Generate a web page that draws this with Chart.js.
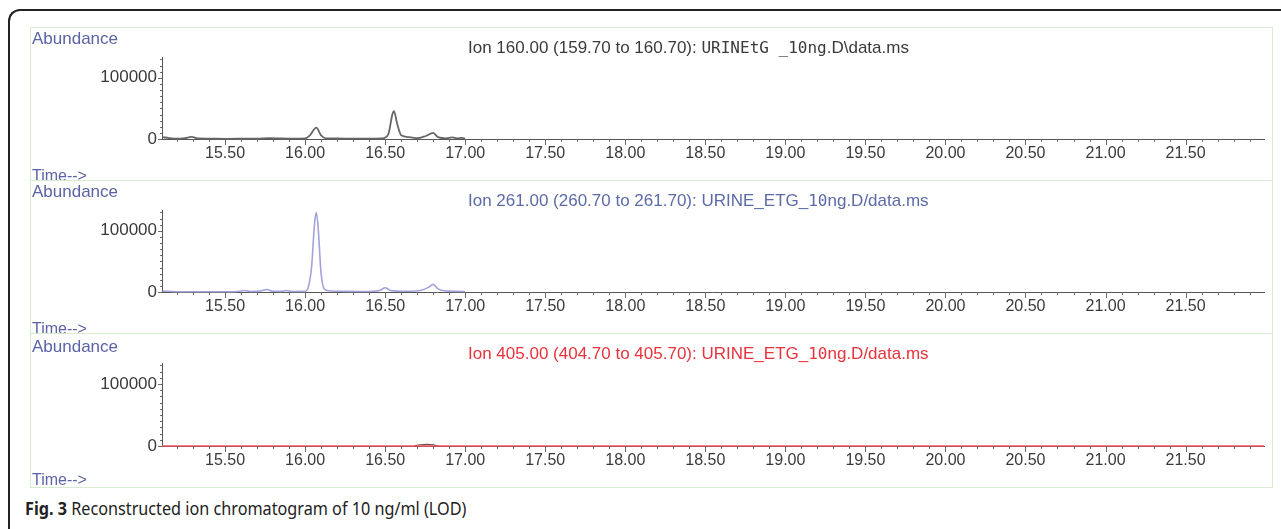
<!DOCTYPE html>
<html>
<head>
<meta charset="utf-8">
<script src="https://cdn.jsdelivr.net/npm/chart.js@4.4.1/dist/chart.umd.min.js"></script>
<style>
  html, body { margin: 0; padding: 0; background: #fff; }
  body { width: 1281px; height: 529px; position: relative; overflow: hidden; font-family: "Liberation Sans", Arial, sans-serif; }
  .frame { position: absolute; left: 8px; top: 9px; width: 1400px; height: 600px; border-top: 2px solid #222; border-left: 2px solid #222; border-top-left-radius: 12px; }
  .panel { position: absolute; left: 30px; width: 1243px; border: 1px solid #d6ebcf; box-sizing: border-box; }
  .panel canvas { position: absolute; left: 0; top: 0; }
  .lbl { position: absolute; white-space: nowrap; line-height: 1; }
  .abund { left: 1px; font-size: 17px; color: #5b63a6; }
  .time { left: 1px; font-size: 16px; color: #5b63a6; }
  .ttl { left: 437px; font-size: 17px; }
  .mono { font-family: "DejaVu Sans Mono", monospace; font-size: 16px; }
  .caption { position: absolute; left: 25px; top: 496px; font-family: "Noto Sans", sans-serif; font-size: 18px; color: #222; white-space: nowrap; transform: scaleX(0.9); transform-origin: 0 0; }
</style>
</head>
<body>
<div class="frame"></div>

<div class="panel" style="top:27px;height:154px;">
  <canvas id="c1" width="1243" height="154"></canvas>
  <div class="lbl abund" style="top:2px;">Abundance</div>
  <div class="lbl ttl" style="top:11px;color:#3a3a3a;">Ion 160.00 (159.70 to 160.70): <span class="mono">URINEtG _10ng</span>.D\data.ms</div>
  <div class="lbl time" style="top:140px;">Time--&gt;</div>
</div>
<div class="panel" style="top:180px;height:154px;">
  <canvas id="c2" width="1243" height="154"></canvas>
  <div class="lbl abund" style="top:2px;">Abundance</div>
  <div class="lbl ttl" style="top:11px;color:#5d6aa8;">Ion 261.00 (260.70 to 261.70): URINE_ETG_<span class="mono">10</span>ng.D/data.ms</div>
  <div class="lbl time" style="top:140px;">Time--&gt;</div>
</div>
<div class="panel" style="top:333px;height:155px;">
  <canvas id="c3" width="1243" height="155"></canvas>
  <div class="lbl abund" style="top:4px;">Abundance</div>
  <div class="lbl ttl" style="top:11px;color:#e8323c;">Ion 405.00 (404.70 to 405.70): URINE_ETG_<span class="mono">10</span>ng.D/data.ms</div>
  <div class="lbl time" style="top:138px;">Time--&gt;</div>
</div>

<div class="caption"><b>Fig. 3</b> Reconstructed ion chromatogram of 10 ng/ml (LOD)</div>

<script>
// Ion 160 trace
const times160 = [15.11, 15.15, 15.20, 15.25, 15.29, 15.33, 15.40, 15.50, 15.60, 15.70, 15.78, 15.85, 15.95, 16.00, 16.03, 16.07, 16.10, 16.13, 16.20, 16.30, 16.40, 16.48, 16.52, 16.545, 16.555, 16.575, 16.60, 16.65, 16.70, 16.75, 16.80, 16.83, 16.88, 16.92, 16.95, 16.98, 17.00];
const abund160 = [3000, 1500, 500, 1500, 3500, 800, 500, 300, 400, 600, 1500, 800, 500, 800, 6000, 18500, 6000, 1000, 800, 600, 500, 800, 8000, 40000, 45500, 25000, 6000, 3000, 1200, 4500, 10000, 3000, 1000, 2500, 1000, 2000, 500];

// Ion 261 trace
const times261 = [15.11, 15.20, 15.30, 15.40, 15.50, 15.58, 15.62, 15.66, 15.72, 15.76, 15.80, 15.85, 15.88, 15.92, 16.00, 16.02, 16.04, 16.06, 16.07, 16.08, 16.10, 16.12, 16.15, 16.25, 16.35, 16.42, 16.47, 16.50, 16.53, 16.57, 16.65, 16.72, 16.77, 16.80, 16.83, 16.87, 16.95, 17.00];
const abund261 = [1500, 500, 300, 300, 400, 800, 2500, 800, 1500, 4000, 1200, 1000, 2500, 800, 1000, 8000, 40000, 115000, 130000, 110000, 30000, 5000, 2000, 1000, 800, 1200, 3000, 7000, 3000, 1500, 1200, 2500, 7500, 12500, 5000, 2000, 1000, 800];

// Ion 405 trace (flat) plus small residual
const times405 = [15.106, 16.00, 17.00, 18.00, 19.00, 20.00, 21.00, 21.99];
const abund405 = [0, 0, 0, 0, 0, 0, 0, 0];
const timesResid = [16.68, 16.72, 16.76, 16.80, 16.83];
const abundResid = [0, 2000, 2500, 2000, 0];

// Axis ticks
const xMin = 15.106, xMax = 21.99;
const xMinorTicks = [];
for (let i = 152; i <= 219; i++) xMinorTicks.push(i / 10);
const yMinorTicks = [];
for (let i = 0; i <= 13; i++) yMinorTicks.push(i * 10000);
const yLabels = [0, 100000];

function isMajorX(v) { return Math.round(v * 10) % 5 === 0; }

const tickMarks = {
    id: 'tickMarks',
    afterDraw(chart) {
        const ctx = chart.ctx;
        const xs = chart.scales.x, ys = chart.scales.y;
        ctx.save();
        ctx.strokeStyle = '#6a6a6a';
        ctx.lineWidth = 1;
        ctx.beginPath();
        xs.ticks.forEach(t => {
            const px = Math.round(xs.getPixelForValue(t.value)) + 0.5;
            const len = isMajorX(t.value) ? 6 : 3;
            ctx.moveTo(px, xs.top);
            ctx.lineTo(px, xs.top + len);
        });
        ys.ticks.forEach(t => {
            const py = Math.round(ys.getPixelForValue(t.value)) + 0.5;
            const len = yLabels.includes(t.value) ? 4 : 2;
            ctx.moveTo(ys.right, py);
            ctx.lineTo(ys.right - len, py);
        });
        ctx.stroke();
        ctx.restore();
    }
};

function toPoints(ts, vs) {
    return ts.map((t, i) => ({ x: t, y: vs[i] }));
}

function makeChart(id, datasets) {
    return new Chart(document.getElementById(id), {
        type: 'line',
        data: { datasets: datasets },
        options: {
            responsive: false,
            animation: false,
            events: [],
            layout: { padding: { top: 29, right: 10, left: 0, bottom: 0 } },
            plugins: { legend: { display: false }, tooltip: { enabled: false } },
            elements: { point: { radius: 0 } },
            scales: {
                x: {
                    type: 'linear',
                    min: xMin,
                    max: xMax,
                    afterBuildTicks: s => { s.ticks = xMinorTicks.map(v => ({ value: v })); },
                    afterFit: s => { s.height = 43; },
                    ticks: {
                        autoSkip: false,
                        maxRotation: 0,
                        padding: -3,
                        color: '#3a3a3a',
                        font: { size: 16, family: "'Liberation Sans', Arial, sans-serif" },
                        callback: v => isMajorX(v) ? v.toFixed(2) : ''
                    },
                    grid: { display: false },
                    border: { color: '#555', width: 1 }
                },
                y: {
                    min: 0,
                    max: 134000,
                    afterBuildTicks: s => { s.ticks = yMinorTicks.map(v => ({ value: v })); },
                    afterFit: s => { s.width = 131; },
                    ticks: {
                        autoSkip: false,
                        padding: -3,
                        color: '#3a3a3a',
                        font: { size: 17, family: "'Liberation Sans', Arial, sans-serif" },
                        callback: v => yLabels.includes(v) ? String(v) : ''
                    },
                    grid: { display: false },
                    border: { color: '#555', width: 1 }
                }
            }
        },
        plugins: [tickMarks]
    });
}

makeChart('c1', [{
    data: toPoints(times160, abund160),
    borderColor: '#666666',
    borderWidth: 1.8,
    cubicInterpolationMode: 'monotone',
    clip: 4
}]);

makeChart('c2', [{
    data: toPoints(times261, abund261),
    borderColor: '#a3a3db',
    borderWidth: 1.6,
    cubicInterpolationMode: 'monotone',
    clip: 4
}]);

makeChart('c3', [{
    data: toPoints(times405, abund405),
    borderColor: '#f0505e',
    borderWidth: 1.4,
    clip: 4
}, {
    data: toPoints(timesResid, abundResid),
    borderColor: '#6a4a4a',
    borderWidth: 1.2,
    cubicInterpolationMode: 'monotone',
    clip: 4
}]);
</script>
</body>
</html>
